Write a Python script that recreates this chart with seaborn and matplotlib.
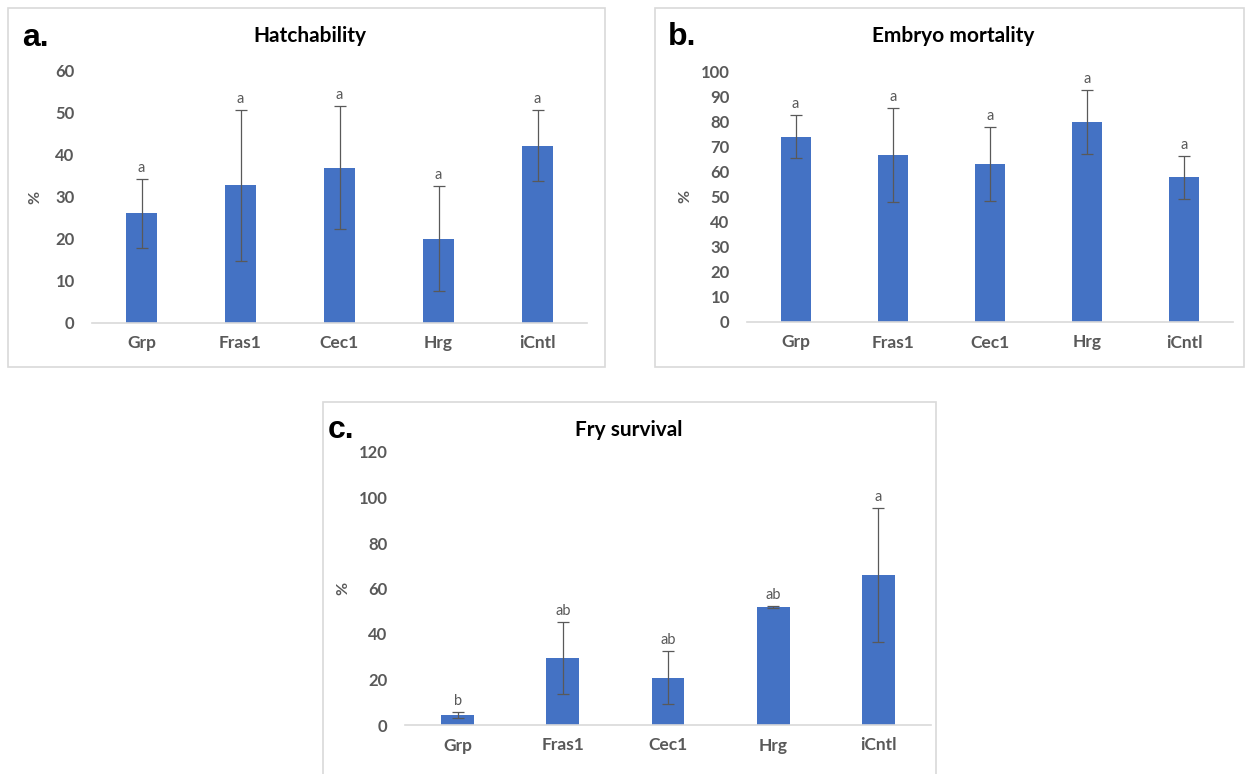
import matplotlib
matplotlib.use("Agg")
import matplotlib.pyplot as plt
import seaborn as sns
from matplotlib.patches import Rectangle

# ---------------- data ----------------
categories = ["Grp", "Fras1", "Cec1", "Hrg", "iCntl"]

hatch_mean = [26.1, 32.8, 37.0, 20.1, 42.2]
hatch_err = [8.2, 18.0, 14.6, 12.5, 8.5]
hatch_letters = ["a", "a", "a", "a", "a"]
hatch_ticks = [0, 10, 20, 30, 40, 50, 60]

embryo_mean = [73.8, 66.4, 63.0, 79.7, 57.7]
embryo_err = [8.5, 18.7, 14.6, 12.6, 8.5]
embryo_letters = ["a", "a", "a", "a", "a"]
embryo_ticks = [0, 10, 20, 30, 40, 50, 60, 70, 80, 90, 100]

fry_mean = [4.4, 29.5, 20.8, 51.9, 65.9]
fry_err = [1.2, 15.9, 11.7, 0.6, 29.5]
fry_letters = ["b", "ab", "ab", "ab", "a"]
fry_ticks = [0, 20, 40, 60, 80, 100, 120]

titles = ["Hatchability", "Embryo mortality", "Fry survival"]
panel_tags = ["a.", "b.", "c."]
y_label = "%"

# ---------------- style ----------------
sns.set_style("white")
plt.rcParams["font.family"] = ["Lato", "DejaVu Sans"]

W, H = 1247, 774
fig = plt.figure(figsize=(W / 100, H / 100), dpi=100)

BAR = "#4472C4"
GREY = "#595959"
FRAME = "#D9D9D9"


def px_axes(l, t, r, b):
    return fig.add_axes([l / W, 1 - b / H, (r - l) / W, (b - t) / H])


def box(l, t, r, b):
    fig.add_artist(Rectangle((l / W, 1 - b / H), (r - l) / W, (b - t) / H,
                             transform=fig.transFigure, fill=False,
                             edgecolor=FRAME, linewidth=1.2))


panels = [
    dict(mean=hatch_mean, err=hatch_err, letters=hatch_letters, ticks=hatch_ticks,
         ax=(92, 71, 587, 323), box=(8, 8, 605, 367), title=(310, 36), tag=(22, 38),
         ylab=50),
    dict(mean=embryo_mean, err=embryo_err, letters=embryo_letters, ticks=embryo_ticks,
         ax=(747, 71, 1233, 322), box=(655, 8, 1244, 367), title=(953, 36), tag=(668, 37),
         ylab=55),
    dict(mean=fry_mean, err=fry_err, letters=fry_letters, ticks=fry_ticks,
         ax=(405, 452, 931, 725), box=(323, 402, 936, 800), title=(629, 430), tag=(328, 430),
         ylab=55),
]

for p, title, tag in zip(panels, titles, panel_tags):
    box(*p["box"])
    l, t, r, b = p["ax"]
    ax = px_axes(l, t, r, b)
    sns.barplot(x=categories, y=p["mean"], color=BAR, saturation=1, width=0.31,
                errorbar=None, linewidth=0, ax=ax)
    xs = list(range(len(categories)))
    ax.errorbar(xs, p["mean"], yerr=p["err"], fmt="none", ecolor=GREY,
                elinewidth=0.9, capsize=4, capthick=0.9, zorder=3)
    for x, m, e, lab in zip(xs, p["mean"], p["err"], p["letters"]):
        ax.annotate(lab, (x, m + e), xytext=(0, 5), textcoords="offset points",
                    ha="center", va="baseline", fontsize=10.5, color=GREY)
    ax.set_xlim(-0.5, len(categories) - 0.5)
    ax.set_ylim(p["ticks"][0], p["ticks"][-1])
    ax.set_yticks(p["ticks"])
    ax.set_yticklabels([str(v) for v in p["ticks"]])
    for s in ["left", "top", "right"]:
        ax.spines[s].set_visible(False)
    ax.spines["bottom"].set_color(FRAME)
    ax.spines["bottom"].set_linewidth(1.2)
    ax.tick_params(axis="y", length=0, pad=12.5, labelsize=12, labelcolor=GREY)
    ax.tick_params(axis="x", length=0, pad=9, labelsize=12.5, labelcolor=GREY)
    for lbl in ax.get_xticklabels() + ax.get_yticklabels():
        lbl.set_fontweight("bold")
    ax.set_ylabel(y_label, fontsize=11.5, color=GREY, fontweight="bold")
    ax.yaxis.set_label_coords(-p["ylab"] / (r - l), 0.5)
    ax.set_xlabel("")
    ax.grid(False)
    tx, ty = p["title"]
    fig.text(tx / W, 1 - ty / H, title, ha="center", va="center",
             fontsize=15, fontweight="bold", color="black")
    gx, gy = p["tag"]
    fig.text(gx / W, 1 - gy / H, tag, ha="left", va="center",
             fontsize=23, fontweight="bold", color="black",
             family=["Liberation Sans", "DejaVu Sans"])

fig.savefig("out.png", dpi=100, facecolor="white")
